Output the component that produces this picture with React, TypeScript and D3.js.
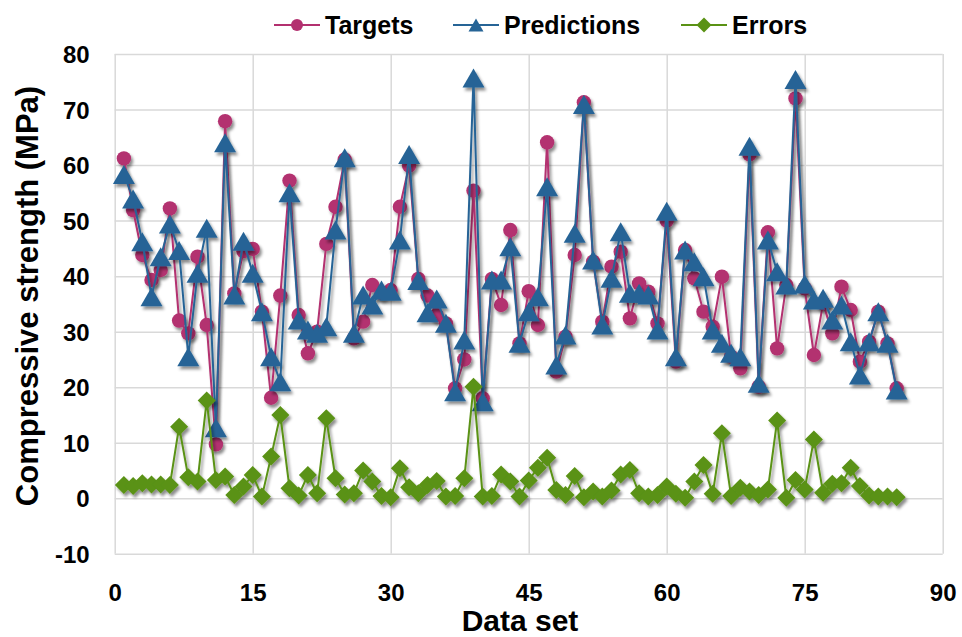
import React, { useEffect, useRef } from "react";
import * as d3 from "d3";

// data set index 1..85
const dataSet: number[] = d3.range(1, 86);

const targets: number[] = [
  61.2, 51.9, 43.8, 39.3, 41.1, 52.2, 32.0, 29.7, 43.5, 31.2,
  9.7, 67.9, 36.9, 44.5, 44.9, 33.6, 18.1, 36.5, 57.2, 33.0,
  26.1, 30.0, 45.8, 52.5, 61.0, 28.8, 31.8, 38.4, 37.0, 37.5,
  52.5, 59.9, 39.5, 36.5, 33.0, 31.5, 19.8, 25.0, 55.4, 18.0,
  39.5, 34.8, 48.3, 27.9, 37.3, 31.2, 64.1, 22.8, 29.1, 43.8,
  71.3, 42.6, 31.8, 41.7, 44.4, 32.4, 38.7, 37.2, 31.5, 50.0,
  24.6, 44.7, 39.6, 33.6, 30.9, 39.9, 25.5, 23.4, 61.9, 20.1,
  47.9, 27.0, 38.4, 72.0, 37.8, 25.8, 35.1, 29.7, 38.1, 33.9,
  24.6, 28.2, 33.6, 27.9, 19.8,
];

const predictions: number[] = [
  58.3, 53.9, 46.2, 36.3, 43.5, 49.4, 44.6, 25.5, 40.5, 48.6,
  12.7, 64.0, 36.6, 46.3, 40.5, 33.6, 25.5, 21.0, 55.0, 32.1,
  30.3, 29.7, 30.9, 48.3, 61.3, 29.7, 36.6, 34.8, 37.5, 37.3,
  46.5, 61.9, 39.2, 33.4, 35.9, 31.5, 19.2, 28.5, 75.7, 17.4,
  39.3, 39.3, 45.3, 27.9, 33.6, 36.3, 56.1, 24.0, 29.4, 47.7,
  70.9, 42.9, 31.2, 39.6, 48.0, 36.9, 36.9, 36.6, 30.3, 51.7,
  25.5, 44.7, 42.6, 39.9, 30.3, 27.9, 26.1, 25.5, 63.4, 20.7,
  46.5, 40.8, 38.4, 75.4, 38.6, 35.7, 36.0, 32.1, 34.8, 28.2,
  22.2, 28.2, 33.6, 27.9, 19.5,
];

const errors: number[] = [
  2.4, 2.2, 2.7, 2.5, 2.5, 2.4, 12.9, 3.8, 3.0, 17.6,
  3.3, 3.9, 0.6, 2.1, 4.2, 0.3, 7.5, 15.0, 1.8, 0.5,
  4.2, 0.9, 14.4, 3.6, 0.7, 0.9, 5.0, 3.0, 0.4, 0.2,
  5.4, 2.0, 0.9, 2.4, 3.1, 0.3, 0.4, 3.6, 20.1, 0.3,
  0.4, 4.3, 3.0, 0.3, 3.2, 5.5, 7.3, 1.5, 0.6, 4.0,
  0.2, 1.2, 0.3, 1.4, 4.3, 5.1, 0.9, 0.3, 0.6, 2.1,
  0.8, 0.1, 3.0, 6.0, 0.8, 11.7, 0.4, 1.9, 1.2, 0.6,
  1.6, 14.0, 0.1, 3.3, 1.6, 10.6, 1.0, 2.6, 2.7, 5.5,
  2.2, 0.5, 0.3, 0.3, 0.2,
];

const xTicks: number[] = [0, 15, 30, 45, 60, 75, 90];
const yTicks: number[] = [-10, 0, 10, 20, 30, 40, 50, 60, 70, 80];

const seriesNames = ["Targets", "Predictions", "Errors"];

const width = 962;
const height = 637;

const colors: Record<string, string> = {
  Targets: "#b3306f",
  Predictions: "#266496",
  Errors: "#5a9214",
};

const triPath = (w: number, h: number) =>
  `M0,${-h / 2}L${w / 2},${h / 2}L${-w / 2},${h / 2}Z`;
const diamondPath = (r: number) => `M0,${-r}L${r},0L0,${r}L${-r},0Z`;

const App = () => {
  const ref = useRef<SVGSVGElement | null>(null);

  useEffect(() => {
    const svg = d3.select(ref.current);
    svg.selectAll("*").remove();

    const margin = { top: 54, right: 19.3, bottom: 83.2, left: 114.7 };
    const plotW = width - margin.left - margin.right;
    const plotH = height - margin.top - margin.bottom;

    const defs = svg.append("defs");
    defs
      .append("filter")
      .attr("id", "shadow")
      .attr("x", "-20%")
      .attr("y", "-20%")
      .attr("width", "140%")
      .attr("height", "140%")
      .append("feDropShadow")
      .attr("dx", 2)
      .attr("dy", 3)
      .attr("stdDeviation", 1.8)
      .attr("flood-color", "#000")
      .attr("flood-opacity", 0.45);

    const g = svg
      .append("g")
      .attr("transform", `translate(${margin.left},${margin.top})`);

    const x = d3.scaleLinear().domain([0, 90]).range([0, plotW]);
    const y = d3.scaleLinear().domain([-10, 80]).range([plotH, 0]);

    const font = "'Liberation Sans', Arial, sans-serif";

    // x axis with vertical gridlines
    const xAxis = d3
      .axisBottom(x)
      .tickValues(xTicks)
      .tickSize(-plotH)
      .tickPadding(30.5)
      .tickFormat((d) => String(d));
    const xg = g
      .append("g")
      .attr("transform", `translate(0,${plotH})`)
      .call(xAxis);
    xg.select(".domain").remove();
    xg.selectAll("line").attr("stroke", "#d9d9d9").attr("stroke-width", 1.5);
    xg.selectAll("text")
      .attr("font-family", font)
      .attr("font-weight", "bold")
      .attr("font-size", 24)
      .attr("fill", "#000");

    // y axis with horizontal gridlines
    const yAxis = d3
      .axisLeft(y)
      .tickValues(yTicks)
      .tickSize(-plotW)
      .tickPadding(25)
      .tickFormat((d) => String(d));
    const yg = g.append("g").call(yAxis);
    yg.select(".domain").remove();
    yg.selectAll("line").attr("stroke", "#d9d9d9").attr("stroke-width", 1.5);
    yg.selectAll("text")
      .attr("font-family", font)
      .attr("font-weight", "bold")
      .attr("font-size", 24)
      .attr("fill", "#000")
      .attr("dy", "0.36em");

    const series = [
      { name: "Targets", values: targets },
      { name: "Predictions", values: predictions },
      { name: "Errors", values: errors },
    ];

    const line = d3
      .line<number>()
      .x((d, i) => x(dataSet[i]))
      .y((d) => y(d));

    series.forEach((s) => {
      const sg = g.append("g").attr("filter", "url(#shadow)");
      sg.append("path")
        .datum(s.values)
        .attr("d", line)
        .attr("fill", "none")
        .attr("stroke", colors[s.name])
        .attr("stroke-width", 2);

      const pts = sg
        .selectAll(".pt")
        .data(s.values)
        .enter()
        .append("g")
        .attr("transform", (d, i) => `translate(${x(dataSet[i])},${y(d)})`);

      if (s.name === "Targets") {
        pts.append("circle").attr("r", 7.2).attr("fill", colors[s.name]);
      } else if (s.name === "Predictions") {
        pts.append("path").attr("d", triPath(22, 19)).attr("fill", colors[s.name]);
      } else {
        pts.append("path").attr("d", diamondPath(9)).attr("fill", colors[s.name]);
      }
    });

    // legend
    const legendItems = [
      { name: seriesNames[0], x0: 274 },
      { name: seriesNames[1], x0: 453 },
      { name: seriesNames[2], x0: 681 },
    ];
    const lg = svg.append("g");
    legendItems.forEach((it) => {
      const c = colors[it.name];
      const ly = 25;
      lg.append("line")
        .attr("x1", it.x0)
        .attr("x2", it.x0 + 46)
        .attr("y1", ly)
        .attr("y2", ly)
        .attr("stroke", c)
        .attr("stroke-width", 2);
      const m = lg.append("g").attr("transform", `translate(${it.x0 + 23},${ly})`);
      if (it.name === "Targets") m.append("circle").attr("r", 6).attr("fill", c);
      else if (it.name === "Predictions")
        m.append("path").attr("d", triPath(15, 13)).attr("fill", c);
      else m.append("path").attr("d", diamondPath(7.5)).attr("fill", c);
      lg.append("text")
        .attr("x", it.x0 + 51)
        .attr("y", ly + 8.5)
        .attr("font-family", font)
        .attr("font-weight", "bold")
        .attr("font-size", 25)
        .attr("fill", "#000")
        .text(it.name);
    });

    // axis titles
    svg
      .append("text")
      .attr("x", 520)
      .attr("y", 631)
      .attr("text-anchor", "middle")
      .attr("font-family", font)
      .attr("font-weight", "bold")
      .attr("font-size", 30)
      .attr("fill", "#000")
      .text("Data set");

    svg
      .append("text")
      .attr("transform", `translate(38,296) rotate(-90)`)
      .attr("text-anchor", "middle")
      .attr("font-family", font)
      .attr("font-weight", "bold")
      .attr("font-size", 31)
      .attr("fill", "#000")
      .text("Compressive strength (MPa)");
  }, []);

  return (
    <div style={{ position: "absolute", left: 0, top: 0 }}>
      <svg ref={ref} width={width} height={height} style={{ display: "block", background: "#fff" }} />
    </div>
  );
};

export default App;
